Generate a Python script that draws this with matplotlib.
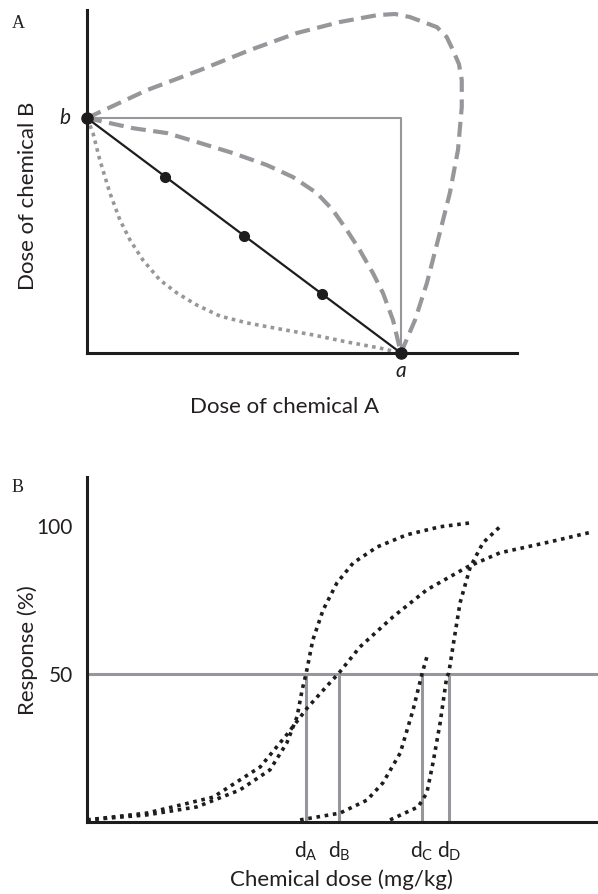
import matplotlib
matplotlib.use("Agg")
import matplotlib.pyplot as plt

plt.rcParams["font.family"] = ["Lato", "DejaVu Sans"]
plt.rcParams["mathtext.fontset"] = "custom"
plt.rcParams["mathtext.rm"] = "Lato"
plt.rcParams["mathtext.it"] = "Lato:italic"

GRAY = "#96979a"
BLACK = "#1e1c1d"
TXT = "#231f20"

# --- panel A: isobologram (doses scaled so a = 1, b = 1) ---
additive_x = [0.0, 1.0]
additive_y = [1.0, 0.0]
mix_x = [0.25, 0.5, 0.75]
mix_y = [0.75, 0.5, 0.25]
indep_x = [0.0, 1.0, 1.0]
indep_y = [1.0, 1.0, 0.0]
antag_x = [0.0, 0.191, 0.36, 0.52, 0.669, 0.806, 0.924, 0.981, 1.029, 1.115,
           1.146, 1.166, 1.185, 1.194, 1.194, 1.182, 1.156, 1.124, 1.083,
           1.045, 1.0]
antag_y = [1.0, 1.119, 1.204, 1.29, 1.362, 1.409, 1.438, 1.443, 1.430, 1.387,
           1.345, 1.289, 1.230, 1.162, 1.047, 0.864, 0.681, 0.511, 0.298,
           0.140, 0.0]
sub_x = [0.0, 0.146, 0.255, 0.36, 0.465, 0.573, 0.656, 0.732, 0.783, 0.828,
         0.869, 0.911, 0.943, 0.975, 1.0]
sub_y = [1.0, 0.957, 0.936, 0.894, 0.851, 0.800, 0.749, 0.681, 0.609, 0.523,
         0.438, 0.340, 0.255, 0.140, 0.0]
syn_x = [0.0, 0.019, 0.041, 0.073, 0.105, 0.137, 0.178, 0.232, 0.287, 0.350,
         0.424, 0.510, 0.615, 0.720, 0.828, 0.933, 1.0]
syn_y = [1.0, 0.936, 0.821, 0.681, 0.566, 0.481, 0.396, 0.311, 0.255, 0.204,
         0.157, 0.128, 0.102, 0.077, 0.047, 0.021, 0.0]

# --- panel B: dose-response curves ---
curve_a_x = [0.0, 1.17, 2.15, 2.99, 3.58, 3.91, 4.11, 4.21, 4.29, 4.42, 4.62,
             4.89, 5.21, 5.68, 6.26, 6.91, 7.50]
curve_a_y = [0.7, 2.4, 5.1, 10.8, 17.6, 26.7, 35.5, 44.6, 50.3, 61.5, 71.6,
             80.7, 87.5, 92.9, 97.0, 99.7, 101.0]
curve_b_x = [0.0, 1.17, 2.47, 3.39, 3.91, 4.31, 4.70, 4.93, 5.34,
             5.99, 6.65, 7.44, 8.08, 9.06, 9.90]
curve_b_y = [0.7, 3.0, 8.4, 18.6, 29.5, 38.5, 46.0, 50.3, 59.1,
             69.3, 78.4, 86.1, 90.9, 94.6, 98.0]
curve_c_x = [4.17, 4.95, 5.48, 5.79, 6.13, 6.38, 6.56, 6.65]
curve_c_y = [0.7, 3.0, 7.4, 13.2, 23.3, 37.8, 50.3, 55.7]
curve_d_x = [5.93, 6.48, 6.65, 6.77, 6.91, 7.04, 7.08, 7.16, 7.30, 7.50, 7.75, 8.08]
curve_d_y = [0.7, 5.1, 9.8, 19.9, 33.4, 49.0, 50.3, 59.1, 74.0, 86.1, 94.3, 99.7]
ed50_doses = [4.29, 4.93, 6.56, 7.08]
ed50_labels = [r"d$_\mathrm{A}$", r"d$_\mathrm{B}$", r"d$_\mathrm{C}$", r"d$_\mathrm{D}$"]
y_ticks = [50, 100]

fig = plt.figure(figsize=(5.98, 8.94), dpi=100)

# ---------------- panel A ----------------
ax1 = fig.add_axes([87 / 598, 1 - 353 / 894, 430 / 598, 343 / 894])
ax1.set_xlim(0, 1.37)
ax1.set_ylim(0, 1.46)
for s in ("top", "right"):
    ax1.spines[s].set_visible(False)
for s in ("left", "bottom"):
    ax1.spines[s].set_linewidth(2.2)
    ax1.spines[s].set_color(BLACK)
ax1.set_xticks([])
ax1.set_yticks([])

ax1.plot(indep_x, indep_y, color=GRAY, lw=1.5, zorder=2)
ax1.plot(antag_x, antag_y, color=GRAY, lw=3, linestyle=(0, (3.6, 1.8)), zorder=2)
ax1.plot(sub_x, sub_y, color=GRAY, lw=3, linestyle=(0, (3.6, 1.8)), zorder=2)
ax1.plot(syn_x, syn_y, color=GRAY, lw=2.6, linestyle=(0, (1, 1.2)), zorder=2)
ax1.plot(additive_x, additive_y, color=BLACK, lw=1.6, zorder=3)
ax1.plot(mix_x, mix_y, "o", color=BLACK, ms=7, zorder=4)
ax1.plot([0, 1], [1, 0], "o", color=BLACK, ms=8, zorder=5, clip_on=False)

ax1.text(-0.07, 1.0, "b", fontsize=15, style="italic", ha="center", va="center",
         color=TXT)
ax1.text(1.0, -0.078, "a", fontsize=15, style="italic", ha="center", va="center",
         color=TXT)

fig.text(12 / 598, 1 - 24 / 894, "A", fontsize=13, family="Liberation Serif",
         ha="left", va="center", color=TXT)
fig.text(285 / 598, 1 - 407 / 894, "Dose of chemical A", fontsize=16,
         ha="center", va="center", color=TXT)
fig.text(28 / 598, 1 - 196 / 894, "Dose of chemical B", fontsize=16,
         rotation=90, ha="center", va="center", color=TXT)

# ---------------- panel B ----------------
ax2 = fig.add_axes([87 / 598, 1 - 822 / 894, 511 / 598, 345 / 894])
ax2.set_xlim(0, 10)
ax2.set_ylim(0, 116.5)
for s in ("top", "right"):
    ax2.spines[s].set_visible(False)
for s in ("left", "bottom"):
    ax2.spines[s].set_linewidth(2.2)
    ax2.spines[s].set_color(BLACK)

ax2.axhline(50, color=GRAY, lw=2.2, zorder=2)
ax2.vlines(ed50_doses, 0, 50, color=GRAY, lw=2.2, zorder=2)

for cx, cy in [(curve_a_x, curve_a_y), (curve_b_x, curve_b_y),
               (curve_c_x, curve_c_y), (curve_d_x, curve_d_y)]:
    ax2.plot(cx, cy, color=BLACK, lw=2.6, linestyle=(0, (1, 1.3)), zorder=3)

ax2.set_yticks(y_ticks)
ax2.set_yticklabels([str(v) for v in y_ticks], fontsize=15, color=TXT)
ax2.set_xticks(ed50_doses)
ax2.set_xticklabels(ed50_labels, fontsize=15, color=TXT)
ax2.tick_params(axis="both", length=0)
ax2.tick_params(axis="y", pad=10)
ax2.tick_params(axis="x", pad=13)

fig.text(12 / 598, 1 - 488 / 894, "B", fontsize=13, family="Liberation Serif",
         ha="left", va="center", color=TXT)
fig.text(341 / 598, 1 - 880 / 894, "Chemical dose (mg/kg)", fontsize=16,
         ha="center", va="center", color=TXT)
fig.text(28 / 598, 1 - 650 / 894, "Response (%)", fontsize=16,
         rotation=90, ha="center", va="center", color=TXT)

fig.savefig("out.png", dpi=100)
plt.close(fig)
